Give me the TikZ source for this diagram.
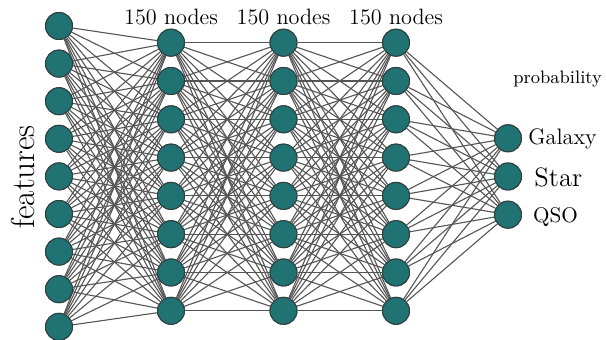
\documentclass[tikz,border=0pt]{standalone}
\usetikzlibrary{calc}
\definecolor{nodeteal}{HTML}{217272}
\definecolor{nodeedge}{HTML}{2F3F3F}
\definecolor{linkgray}{HTML}{555555}
\tikzset{
  neuron/.style={circle, fill=nodeteal, draw=nodeedge, line width=0.5pt, minimum size=13.5pt, inner sep=0pt},
  link/.style={draw=linkgray, line width=0.55pt},
  layerlabel/.style={font=\fontsize{11.1}{13}\selectfont, inner sep=0pt}
}
\begin{document}
\begin{tikzpicture}[x=0.5pt, y=-0.5pt]
\useasboundingbox (0,0) rectangle (606,340);
% input layer
\foreach \i in {1,...,9} {
  \node[neuron] (in\i) at (59, {26+37.6*(\i-1)}) {};
}
% hidden layers
\foreach \l/\xx in {1/171, 2/283.5, 3/396} {
  \foreach \j in {1,...,8} {
    \node[neuron] (h\l-\j) at (\xx, {42.7+38.3*(\j-1)}) {};
  }
}
% output layer
\foreach \k in {1,2,3} {
  \node[neuron] (out\k) at (508, {138.3+38.2*(\k-1)}) {};
}
% connections
\foreach \i in {1,...,9} \foreach \j in {1,...,8} \draw[link] (in\i) -- (h1-\j);
\foreach \i in {1,...,8} \foreach \j in {1,...,8} \draw[link] (h1-\i) -- (h2-\j);
\foreach \i in {1,...,8} \foreach \j in {1,...,8} \draw[link] (h2-\i) -- (h3-\j);
\foreach \i in {1,...,8} \foreach \k in {1,2,3} \draw[link] (h3-\i) -- (out\k);
% redraw nodes on top
\foreach \i in {1,...,9} \node[neuron] at (in\i) {};
\foreach \l in {1,2,3} \foreach \j in {1,...,8} \node[neuron] at (h\l-\j) {};
\foreach \k in {1,2,3} \node[neuron] at (out\k) {};
% labels
\node[layerlabel, anchor=base] (lab1) at (171, 25) {150 nodes};
\node[layerlabel, anchor=base] (lab2) at (283.5, 25) {150 nodes};
\node[layerlabel, anchor=base] (lab3) at (396, 25) {150 nodes};
\node[font=\fontsize{9}{11}\selectfont, inner sep=0pt, anchor=base west] (prob) at (513, 83.3) {probability};
\node[font=\fontsize{11.2}{13}\selectfont, inner sep=0pt, anchor=base west] (gal) at (528, 144.3) {Galaxy};
\node[font=\fontsize{13.3}{15}\selectfont, inner sep=0pt, anchor=base west] (star) at (534, 186.7) {Star};
\node[font=\fontsize{10.6}{12}\selectfont, inner sep=0pt, anchor=base west] (qso) at (532.7, 222.3) {QSO};
\node[font=\fontsize{16.6}{19}\selectfont, inner sep=0pt, rotate=90] (feat) at (22.5, 177) {features};
\end{tikzpicture}
\end{document}
